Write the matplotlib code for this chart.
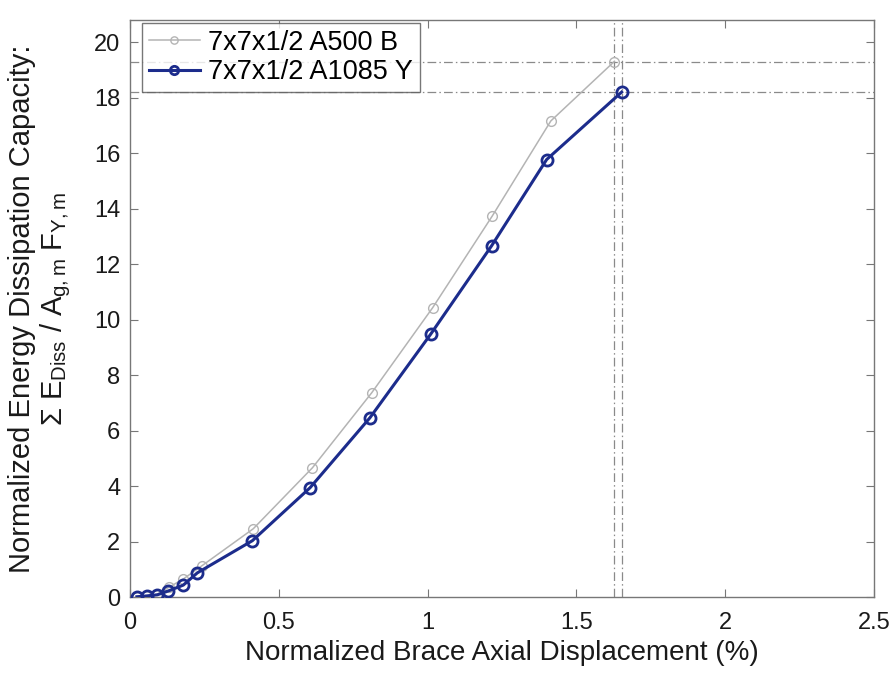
import matplotlib
matplotlib.use("Agg")
import matplotlib.pyplot as plt

plt.rcParams['font.family'] = ['Liberation Sans', 'DejaVu Sans']
plt.rcParams['mathtext.fontset'] = 'custom'
plt.rcParams['mathtext.rm'] = 'Liberation Sans'
plt.rcParams['mathtext.it'] = 'Liberation Sans'
plt.rcParams['mathtext.sf'] = 'Liberation Sans'

# Cumulative normalized energy dissipation vs. normalized axial displacement
disp_a500 = [0.022, 0.055, 0.090, 0.132, 0.179, 0.242, 0.414, 0.613, 0.812, 1.017, 1.217, 1.414, 1.627]
energy_a500 = [0.01, 0.04, 0.09, 0.36, 0.65, 1.13, 2.46, 4.66, 7.36, 10.43, 13.73, 17.16, 19.30]

disp_a1085 = [0.023, 0.056, 0.092, 0.129, 0.179, 0.226, 0.411, 0.605, 0.806, 1.010, 1.215, 1.400, 1.652]
energy_a1085 = [0.01, 0.04, 0.08, 0.22, 0.43, 0.87, 2.03, 3.94, 6.46, 9.47, 12.66, 15.77, 18.20]

label_a500 = "7x7x1/2 A500 B"
label_a1085 = "7x7x1/2 A1085 Y"

xticks = [0, 0.5, 1, 1.5, 2, 2.5]
xtick_labels = ["0", "0.5", "1", "1.5", "2", "2.5"]
yticks = [0, 2, 4, 6, 8, 10, 12, 14, 16, 18, 20]

fig = plt.figure(figsize=(8.95, 6.73), dpi=100)
ax = fig.add_axes([0.1453, 0.1129, 0.8312, 0.8574])

gray = "#b4b4b4"
navy = "#1c2c8c"
refc = "#8a8a8a"

# Reference lines through the final point of each series
for xv in (disp_a500[-1], disp_a1085[-1]):
    ax.axvline(xv, color=refc, lw=0.9, ls=(0, (7, 2.5, 1.2, 2.5)), zorder=1)
for yv in (energy_a500[-1], energy_a1085[-1]):
    ax.axhline(yv, color=refc, lw=0.9, ls=(0, (7, 2.5, 1.2, 2.5)), zorder=1)

ax.plot(disp_a500, energy_a500, color=gray, lw=1.1, marker='o', ms=7,
        mfc='none', mec=gray, mew=1.0, label=label_a500, zorder=3)
ax.plot(disp_a1085, energy_a1085, color=navy, lw=2.2, marker='o', ms=8,
        mfc='none', mec=navy, mew=2.0, label=label_a1085, zorder=4)

ax.set_xlim(0, 2.5)
ax.set_ylim(0, 20.8)
ax.set_xticks(xticks)
ax.set_xticklabels(xtick_labels)
ax.set_yticks(yticks)

ax.tick_params(direction='in', top=True, right=True, length=6, width=0.8,
               colors='#777777', labelcolor='#1a1a1a', labelsize=17)
ax.tick_params(axis='x', pad=11)
ax.tick_params(axis='y', pad=7)
for sp in ax.spines.values():
    sp.set_color('#777777')
    sp.set_linewidth(1.0)

ax.set_xlabel("Normalized Brace Axial Displacement (%)", fontsize=20, color='#1a1a1a')
ax.xaxis.set_label_coords(0.5, -0.075)
ax.set_ylabel("Normalized Energy Dissipation Capacity:\n"
              r"$\Sigma\ E_{\mathrm{Diss}}\ /\ A_{\mathrm{g,m}}\ F_{\mathrm{Y,m}}$",
              fontsize=21, color='#1a1a1a', linespacing=1.1)
ax.yaxis.set_label_coords(-0.077, 0.5)

leg = ax.legend(loc='upper left', bbox_to_anchor=(0.016, 0.995), fontsize=19.5,
                frameon=True, fancybox=False, edgecolor='#555555', handlelength=1.9,
                handletextpad=0.3, borderpad=0.25, labelspacing=0.14,
                borderaxespad=0.0, markerscale=0.75)
leg.get_frame().set_linewidth(1.0)

fig.savefig("out.png", dpi=100)
